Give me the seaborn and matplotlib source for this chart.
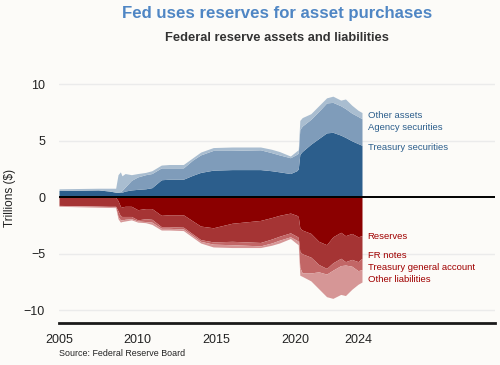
import numpy as np
import seaborn as sns
import matplotlib.pyplot as plt

# values (trillions of dollars)
years = [2005.0, 2007.5, 2008.2, 2008.6, 2008.75, 2008.9, 2009.0, 2009.2, 2009.6,
         2010.0, 2010.5, 2010.9, 2011.5, 2012.0, 2012.9, 2013.5, 2014.0, 2014.8,
         2016.0, 2017.8, 2018.5, 2019.0, 2019.7, 2020.1, 2020.2, 2020.3, 2020.45,
         2021.0, 2021.5, 2022.0, 2022.4, 2022.9, 2023.2, 2023.6, 2024.0, 2024.25]

# assets
treasury = [0.6, 0.65, 0.55, 0.45, 0.45, 0.45, 0.45, 0.55, 0.65,
            0.7, 0.75, 0.85, 1.55, 1.6, 1.6, 1.95, 2.2, 2.4,
            2.45, 2.45, 2.35, 2.25, 2.1, 2.35, 2.5, 3.8, 4.05,
            4.7, 5.2, 5.7, 5.75, 5.5, 5.3, 5.0, 4.75, 4.6]
agency = [0.0, 0.0, 0.0, 0.0, 0.0, 0.05, 0.15, 0.35, 0.85,
          1.1, 1.25, 1.25, 1.05, 1.0, 1.0, 1.35, 1.55, 1.75,
          1.7, 1.75, 1.6, 1.5, 1.4, 1.45, 1.4, 2.2, 2.25,
          2.2, 2.4, 2.65, 2.65, 2.6, 2.55, 2.45, 2.4, 2.35]
other_assets = [0.15, 0.15, 0.25, 0.35, 1.55, 1.75, 1.3, 1.2, 0.5,
                0.3, 0.2, 0.25, 0.25, 0.3, 0.3, 0.2, 0.25, 0.25,
                0.3, 0.25, 0.3, 0.3, 0.15, 0.3, 0.3, 0.8, 0.75,
                0.5, 0.5, 0.45, 0.55, 0.5, 0.85, 0.7, 0.55, 0.55]

# liabilities
reserves = [0.02, 0.02, 0.02, 0.02, 0.3, 0.8, 0.85, 0.8, 0.8,
            1.1, 1.0, 1.0, 1.6, 1.55, 1.55, 2.1, 2.55, 2.7,
            2.3, 2.05, 1.8, 1.6, 1.4, 1.6, 1.7, 2.7, 2.9,
            3.2, 3.9, 4.2, 3.5, 3.1, 3.4, 3.2, 3.5, 3.4]
fr_notes = [0.7, 0.76, 0.78, 0.78, 0.9, 0.85, 0.85, 0.9, 0.9,
            0.9, 0.9, 0.95, 1.0, 1.05, 1.1, 1.15, 1.2, 1.25,
            1.6, 1.95, 1.9, 1.85, 1.75, 1.85, 1.85, 2.1, 2.1,
            2.1, 2.05, 2.1, 2.3, 2.3, 2.3, 2.3, 2.2, 2.0]
tga = [0.02, 0.02, 0.02, 0.05, 0.5, 0.35, 0.3, 0.25, 0.2,
       0.1, 0.25, 0.25, 0.15, 0.15, 0.15, 0.15, 0.15, 0.2,
       0.3, 0.3, 0.35, 0.35, 0.35, 0.35, 0.35, 1.4, 1.7,
       1.4, 0.65, 0.5, 0.65, 0.65, 0.3, 0.6, 0.8, 1.0]
other_liab = [0.06, 0.08, 0.08, 0.07, 0.2, 0.2, 0.15, 0.15, 0.1,
              0.1, 0.1, 0.2, 0.15, 0.15, 0.15, 0.15, 0.15, 0.25,
              0.25, 0.15, 0.2, 0.25, 0.15, 0.3, 0.3, 0.7, 0.3,
              0.7, 1.5, 2.0, 2.5, 2.55, 2.7, 2.05, 1.2, 1.1]

asset_labels = ['Treasury securities', 'Agency securities', 'Other assets']
liab_labels = ['Reserves', 'FR notes', 'Treasury general account', 'Other liabilities']
asset_label_y = [4.4, 6.2, 7.2]
liab_label_y = [-3.5, -5.15, -6.2, -7.25]

blues = ['#2c5e8c', '#7f9cba', '#a9bdd0']
reds = ['#8b0000', '#a53434', '#c26666', '#d69696']

bg = '#fcfbf8'
sns.set_style('white', {'axes.facecolor': bg, 'figure.facecolor': bg})
plt.rcParams['font.family'] = ['Liberation Sans', 'DejaVu Sans']

fig = plt.figure(figsize=(5, 3.65), dpi=100)
ax = fig.add_axes([0.118, 0.116, 0.872, 0.684])

for yv in [-10, -5, 5, 10]:
    ax.axhline(yv, color='#ebebeb', lw=1, zorder=0)

ax.stackplot(years, treasury, agency, other_assets, colors=blues, lw=0, zorder=2)
ax.stackplot(years, -np.array(reserves), -np.array(fr_notes), -np.array(tga),
             -np.array(other_liab), colors=reds, lw=0, zorder=2)
ax.axhline(0, color='black', lw=1.4, zorder=3)

for lab, yv in zip(asset_labels, asset_label_y):
    ax.text(2024.6, yv, lab, color='#2c5e8c', fontsize=6.8, va='center')
for lab, yv in zip(liab_labels, liab_label_y):
    ax.text(2024.6, yv, lab, color='#a00000', fontsize=6.8, va='center')

ax.set_xlim(2005, 2032.7)
ax.set_ylim(-11.1, 11)
ax.set_xticks([2005, 2010, 2015, 2020, 2024])
ax.set_yticks([-10, -5, 0, 5, 10])
ax.tick_params(axis='x', length=3, width=0.8, color='#999999', labelsize=9,
               colors='#222222', pad=5)
ax.tick_params(axis='y', length=0, labelsize=9, colors='#222222', pad=10)
ax.set_ylabel('Trillions ($)', fontsize=8.5, color='#222222', labelpad=6)

sns.despine(ax=ax, left=True)
ax.spines['bottom'].set_color('#1a1a1a')
ax.spines['bottom'].set_linewidth(2)
ax.grid(False)

center = 0.118 + 0.872 / 2
fig.text(center, 0.964, 'Fed uses reserves for asset purchases', ha='center', va='center',
         fontsize=12.1, fontweight='bold', color='#4f86c4')
fig.text(center, 0.896, 'Federal reserve assets and liabilities', ha='center', va='center',
         fontsize=9.3, fontweight='bold', color='#333333')
fig.text(0.118, 0.032, 'Source: Federal Reserve Board', fontsize=6.4, color='#222222',
         va='center')

fig.savefig('out.png', dpi=100, facecolor=bg)
